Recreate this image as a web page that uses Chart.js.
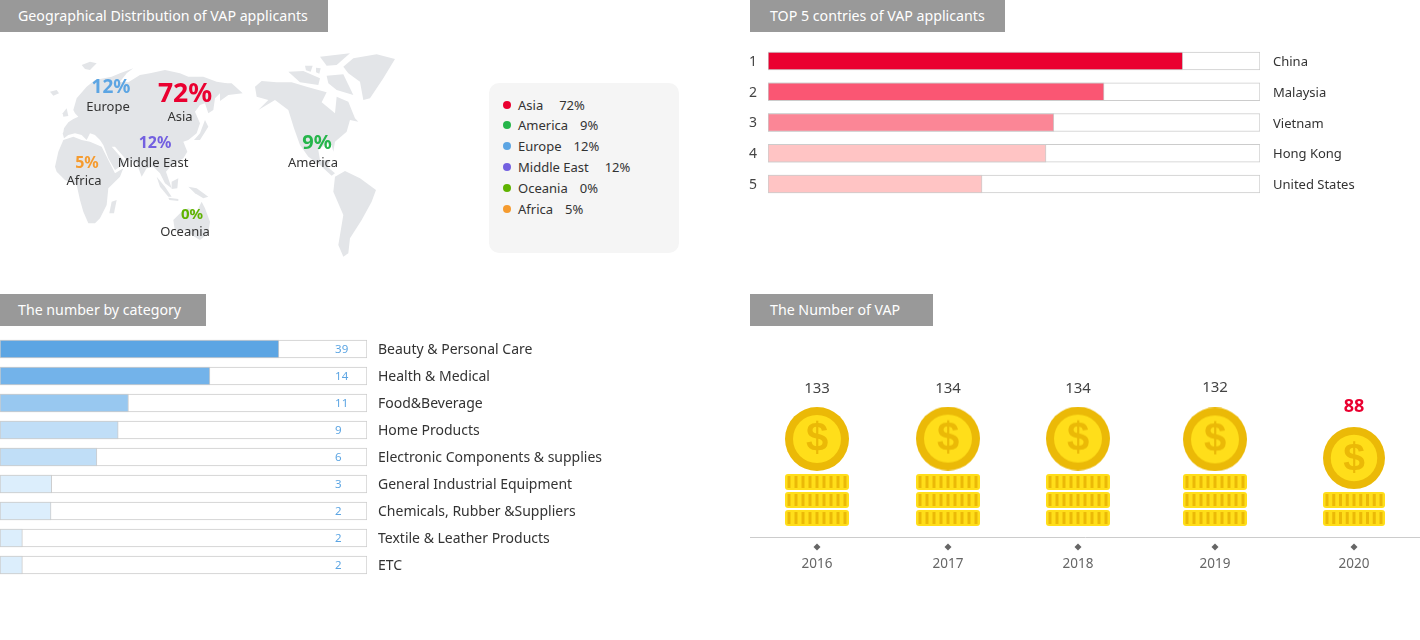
<!DOCTYPE html>
<html>
<head>
<meta charset="utf-8">
<title>VAP applicants</title>
<script src="https://cdn.jsdelivr.net/npm/chart.js@4"></script>
<style>
  html, body { margin: 0; padding: 0; background: #fff; }
  body { width: 1420px; height: 640px; position: relative; overflow: hidden; font-family: "Noto Sans", sans-serif; }
  canvas, svg, .tab, #legendPanel { position: absolute; }
  .tab { height: 32px; line-height: 32px; background: #999; color: #fff; font-size: 14.2px; white-space: nowrap; box-sizing: border-box; }
  #legendPanel { left: 489px; top: 83px; width: 190px; height: 170px; background: #f5f5f5; border-radius: 10px; font-size: 13px; color: #333; }
  #legendPanel div { position: absolute; left: 14px; white-space: nowrap; line-height: 20px; }
  #legendPanel i { display: inline-block; width: 8px; height: 8px; border-radius: 50%; margin-right: 7px; vertical-align: 1px; }
</style>
</head>
<body>

<div class="tab" style="left:0;top:0;width:328px;padding-left:18px">Geographical Distribution of VAP applicants</div>
<div class="tab" style="left:750px;top:0;width:255px;padding-left:20px">TOP 5 contries of VAP applicants</div>
<div class="tab" style="left:0;top:294px;width:206px;padding-left:18px">The number by category</div>
<div class="tab" style="left:750px;top:294px;width:183px;padding-left:20px">The Number of VAP</div>

<!-- world map backdrop, rough outline traced at 3x -->
<svg width="480" height="270" style="left:0;top:0" fill="#e3e5e8">
  <g transform="translate(40 45) scale(0.3333)">
    <polygon points="70,262 72,250 85,232 100,222 115,215 105,205 100,195 110,160 140,125 165,105 215,95 240,85 280,70 260,85 240,110 265,112 300,90 330,85 375,75 420,85 445,95 490,95 530,110 560,115 565,135 540,145 525,160 520,195 505,205 495,175 480,180 465,200 480,235 470,265 445,285 430,290 442,320 430,340 395,360 378,380 395,430 375,415 360,385 340,365 320,370 305,395 290,355 255,340 225,305 215,305 250,345 255,355 225,375 205,340 190,300 180,285 165,270 150,265 140,285 125,270 105,265 85,270 72,280 68,265"/>
    <polygon points="70,285 100,275 125,285 150,290 185,305 205,345 225,385 250,370 240,395 205,430 200,480 180,520 165,535 145,535 130,500 120,465 110,420 75,405 50,380 45,365 55,320"/>
    <polygon points="215,470 230,465 222,505 208,505"/>
    <polygon points="495,225 505,245 480,285 462,285 480,265"/>
    <polygon points="350,395 375,425 395,455 385,455 360,425"/>
    <polygon points="395,410 415,400 412,430 395,432"/>
    <polygon points="385,458 415,462 415,468 388,465"/>
    <polygon points="445,425 470,430 505,455 490,460 465,445"/>
    <polygon points="400,525 425,500 445,490 470,500 485,470 495,490 510,530 505,565 480,585 455,570 440,555 405,560"/>
    <polygon points="30,140 50,135 57,145 40,152"/>
    <polygon points="125,60 150,50 170,55 150,75 135,72"/>
    <polygon points="68,205 80,190 85,213 70,215"/>
  </g>
  <g transform="translate(220 45) scale(0.3333)">
    <polygon points="0,115 35,115 68,145 25,150 0,168"/>
    <polygon points="105,125 125,108 170,112 215,112 260,125 295,135 320,142 305,172 345,205 350,155 385,170 405,220 415,230 390,225 380,260 345,290 340,320 335,300 320,295 295,315 300,345 330,345 322,365 345,385 335,392 300,360 265,335 240,300 222,250 205,195 165,165 115,195 145,165 110,155"/>
    <polygon points="345,395 375,378 420,400 468,435 455,470 425,525 390,580 385,625 370,635 355,600 370,510 340,440"/>
    <polygon points="370,65 400,40 470,28 525,42 490,100 450,160 430,165 420,110 385,85"/>
    <polygon points="300,35 390,25 350,60 320,62"/>
    <polygon points="205,80 250,78 300,100 295,120 240,112"/>
    <polygon points="320,92 370,88 400,150 350,135 325,115"/>
    <polygon points="255,62 278,62 272,80 258,76"/>
    <polygon points="288,68 302,70 298,86 288,82"/>
  </g>
</svg>

<canvas id="mapChart" width="480" height="230" style="left:0;top:40px;width:480px;height:230px"></canvas>
<div id="legendPanel"></div>
<canvas id="rankChart" width="680" height="155" style="left:740px;top:45px;width:680px;height:155px"></canvas>
<canvas id="categoryChart" width="620" height="244" style="left:0;top:335px;width:620px;height:244px"></canvas>
<canvas id="vapChart" width="670" height="260" style="left:750px;top:330px;width:670px;height:260px"></canvas>

<script>
// Regions
const regions = ['Asia', 'America', 'Europe', 'Middle East', 'Oceania', 'Africa'];
const regionShares = [72, 9, 12, 12, 0, 5];

// Top 5 countries (bar length in % of the track, no numbers printed in the source)
const ranks = ['1', '2', '3', '4', '5'];
const countries = ['China', 'Malaysia', 'Vietnam', 'Hong Kong', 'United States'];
const countryLengths = [84.3, 68.3, 58.1, 56.5, 43.5];

// Categories (printed count and drawn length differ in the source)
const categories = ['Beauty & Personal Care', 'Health & Medical', 'Food&Beverage', 'Home Products',
  'Electronic Components & supplies', 'General Industrial Equipment', 'Chemicals, Rubber &Suppliers',
  'Textile & Leather Products', 'ETC'];
const categoryCounts = [39, 14, 11, 9, 6, 3, 2, 2, 2];
const categoryLengths = [76, 57.2, 35, 32.2, 26.4, 14.1, 13.9, 6.1, 6.1];

// Yearly number of VAP
const years = ['2016', '2017', '2018', '2019', '2020'];
const vapCounts = [133, 134, 134, 132, 88];
const coinStacks = [3, 3, 3, 3, 2];

// Styles and layout, kept apart from the data
const regionColors = ['#ea0030', '#25b54a', '#5ca5e3', '#7360e0', '#5fb300', '#f59b2f'];
const regionFontSizes = [26.5, 20, 19, 16, 15, 16];
const shareX = [185, 317, 111, 155, 192, 87];
const shareY = [94, 143, 88, 143, 215, 163];
const nameX = [180, 313, 108, 153, 185, 84];
const nameY = [117, 163, 107, 163, 232, 181];
const legendTops = [12, 32, 53, 74, 95, 116];
const legendGaps = [16, 12, 12, 16, 12, 12];
const countryColors = ['#ea0030', '#fa5673', '#fb8696', '#ffc4c4', '#ffc4c4'];
const categoryColors = ['#5ca5e3', '#73b3ea', '#98c8f0', '#c0def7', '#c0def7', '#dceefc', '#dceefc', '#dceefc', '#dceefc'];
const coinSlots = [817, 948, 1078, 1215, 1354];
const coinRadius = [32, 32, 32, 32, 31];
const labelLift = [18, 18, 18, 20, 20];
const FONT = '"Noto Sans", sans-serif';
const COIN_DARK = '#ebb907';
const COIN_LIGHT = '#ffde1a';

Chart.defaults.animation = false;
Chart.defaults.responsive = false;
Chart.defaults.font.family = FONT;
Chart.defaults.plugins.legend.display = false;
Chart.defaults.plugins.tooltip.enabled = false;

// Legend panel
const legendPanel = document.getElementById('legendPanel');
regions.forEach((name, i) => {
  const row = document.createElement('div');
  row.style.top = legendTops[i] + 'px';
  row.innerHTML = '<i style="background:' + regionColors[i] + '"></i>' + name +
    '<span style="margin-left:' + legendGaps[i] + 'px">' + regionShares[i] + '%</span>';
  legendPanel.appendChild(row);
});

// Map labels
new Chart(document.getElementById('mapChart'), {
  type: 'scatter',
  data: {
    labels: regions,
    datasets: [{ data: regionShares.map((s, i) => ({ x: shareX[i], y: shareY[i], share: s })), pointRadius: 0 }]
  },
  options: {
    layout: { autoPadding: false },
    scales: {
      x: { display: false, min: 0, max: 480 },
      y: { display: false, min: 40, max: 270, reverse: true }
    }
  },
  plugins: [{
    id: 'mapLabels',
    afterDatasetsDraw(chart) {
      const { ctx, scales } = chart;
      ctx.save();
      ctx.textAlign = 'center';
      ctx.textBaseline = 'middle';
      chart.getDatasetMeta(0).data.forEach((pt, i) => {
        ctx.font = 'bold ' + regionFontSizes[i] + 'px ' + FONT;
        ctx.fillStyle = regionColors[i];
        ctx.fillText(regionShares[i] + '%', pt.x, pt.y);
        ctx.font = '13px ' + FONT;
        ctx.fillStyle = '#333';
        ctx.fillText(regions[i], scales.x.getPixelForValue(nameX[i]), scales.y.getPixelForValue(nameY[i]));
      });
      ctx.restore();
    }
  }]
});

// Chart.js reserves room for half a tick label at the axis ends, drop it
function noPadding(s) {
  s.paddingTop = s.paddingBottom = s.paddingLeft = s.paddingRight = 0;
}

// Horizontal bar with a white track behind it
function trackBarChart(id, labels, lengths, colors, rightLabels, leftWidth, rightWidth, fontSize, rightPad, rightShift, padding, extra) {
  return new Chart(document.getElementById(id), {
    type: 'bar',
    data: {
      labels: labels,
      datasets: [
        { data: lengths, backgroundColor: colors, borderColor: '#ccc', borderWidth: 1, borderSkipped: false,
          barThickness: 18, grouped: false, order: 0 },
        { data: lengths.map(() => 100), backgroundColor: '#fff', borderColor: '#ccc', borderWidth: 1, borderSkipped: false,
          barThickness: 18, grouped: false, order: 1 }
      ]
    },
    options: {
      indexAxis: 'y',
      layout: { padding: padding },
      scales: {
        x: { display: false, min: 0, max: 100 },
        y: {
          display: leftWidth > 0,
          grid: { display: false, drawTicks: false },
          border: { display: false },
          ticks: { color: '#444', padding: 11, labelOffset: 1, font: { size: 14 } },
          afterFit(s) { s.width = leftWidth; noPadding(s); }
        },
        y2: {
          type: 'category',
          axis: 'y',
          position: 'right',
          labels: rightLabels,
          offset: true,
          grid: { display: false, drawTicks: false },
          border: { display: false },
          ticks: { color: '#333', padding: rightPad, labelOffset: rightShift, autoSkip: false, font: { size: fontSize } },
          afterFit(s) { s.width = rightWidth; noPadding(s); }
        }
      }
    },
    plugins: extra ? [extra] : []
  });
}

trackBarChart('rankChart', ranks, countryLengths, countryColors, countries, 28, 160, 13, 13, 1.5, { top: 0.6, bottom: 0.6 });

trackBarChart('categoryChart', categories, categoryLengths, categoryColors, categories, 0, 253, 14, 11, 1, { top: 0.5, bottom: 0.5 }, {
  id: 'countLabels',
  afterDatasetsDraw(chart) {
    const { ctx, scales } = chart;
    ctx.save();
    ctx.font = '11.5px ' + FONT;
    ctx.fillStyle = '#5ca5e3';
    ctx.textAlign = 'left';
    ctx.textBaseline = 'middle';
    categoryCounts.forEach((c, i) => {
      ctx.fillText(c, scales.x.getPixelForValue(91.3), scales.y.getPixelForValue(i) + 1);
    });
    ctx.restore();
  }
});

// Coin picture used as the point style
function makeCoin(r) {
  const c = document.createElement('canvas');
  c.width = c.height = r * 2;
  const g = c.getContext('2d');
  g.fillStyle = COIN_DARK;
  g.beginPath(); g.arc(r, r, r, 0, Math.PI * 2); g.fill();
  g.fillStyle = COIN_LIGHT;
  g.beginPath(); g.arc(r, r, r * 0.75, 0, Math.PI * 2); g.fill();
  g.fillStyle = COIN_DARK;
  g.font = 'bold ' + Math.round(r * 1.25) + 'px "Liberation Sans", sans-serif';
  g.textAlign = 'center';
  g.textBaseline = 'middle';
  g.fillText('$', r, r + 1);
  return c;
}

new Chart(document.getElementById('vapChart'), {
  type: 'scatter',
  data: {
    labels: years,
    datasets: [{
      data: vapCounts.map((v, i) => ({ x: coinSlots[i], y: v })),
      pointStyle: coinRadius.map(makeCoin)
    }]
  },
  options: {
    layout: { autoPadding: false },
    scales: {
      x: {
        min: 750,
        max: 1420,
        grid: { display: false, drawTicks: false },
        border: { display: true, color: '#ccc', width: 1 },
        afterBuildTicks(s) { s.ticks = coinSlots.map(v => ({ value: v })); },
        afterFit(s) { s.height = 53; noPadding(s); },
        ticks: {
          autoSkip: false,
          maxRotation: 0,
          padding: 19,
          color: '#666',
          font: { size: 13.5 },
          callback: v => years[coinSlots.indexOf(v)]
        }
      },
      y: { display: false, min: -99, max: 391 }
    }
  },
  plugins: [{
    id: 'coinStacks',
    beforeDatasetsDraw(chart) {
      const { ctx } = chart;
      const base = chart.scales.y.bottom - 11;
      ctx.save();
      chart.getDatasetMeta(0).data.forEach((pt, i) => {
        const w = coinRadius[i] * 2;
        const left = pt.x - coinRadius[i];
        const step = (w - 8) / 8;
        for (let n = 0; n < coinStacks[i]; n++) {
          const top = base - 16 - n * 18;
          ctx.fillStyle = COIN_LIGHT;
          ctx.beginPath();
          ctx.roundRect(left, top, w, 16, 3);
          ctx.fill();
          ctx.fillStyle = COIN_DARK;
          for (let k = 0; k < 9; k++) {
            ctx.fillRect(left + 2.5 + k * step, top + 2, 3, 12);
          }
        }
      });
      ctx.restore();
    },
    afterDatasetsDraw(chart) {
      const { ctx } = chart;
      ctx.save();
      ctx.textAlign = 'center';
      ctx.textBaseline = 'middle';
      chart.getDatasetMeta(0).data.forEach((pt, i) => {
        const last = i === vapCounts.length - 1;
        ctx.font = (last ? 'bold 18px ' : '15px ') + FONT;
        ctx.fillStyle = last ? '#ea0030' : '#444';
        ctx.fillText(vapCounts[i], pt.x, pt.y - coinRadius[i] - labelLift[i]);
        // diamond under the axis
        const dy = chart.scales.y.bottom + 10;
        ctx.fillStyle = '#666';
        ctx.beginPath();
        ctx.moveTo(pt.x, dy - 3.5);
        ctx.lineTo(pt.x + 3.5, dy);
        ctx.lineTo(pt.x, dy + 3.5);
        ctx.lineTo(pt.x - 3.5, dy);
        ctx.fill();
      });
      ctx.restore();
    }
  }]
});
</script>
</body>
</html>
